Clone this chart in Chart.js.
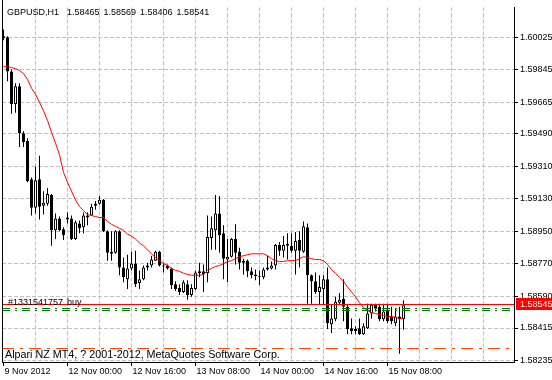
<!DOCTYPE html>
<html>
<head>
<meta charset="utf-8">
<script src="https://cdn.jsdelivr.net/npm/chart.js@4.4.0/dist/chart.umd.min.js"></script>
<style>
  html, body { margin: 0; padding: 0; background: #fff; }
</style>
</head>
<body>
<canvas id="chart" width="552" height="380"></canvas>
<script>
// GBPUSD H1, 9 Nov 2012 08:00 .. 15 Nov 2012 12:00
const opens = [1.60020, 1.60025, 1.59835, 1.59656, 1.59754, 1.59493, 1.59450, 1.59239, 1.59081, 1.59239,
  1.59092, 1.59103, 1.59152, 1.58956, 1.59022, 1.58962, 1.59027, 1.59022, 1.58908, 1.58994,
  1.58973, 1.59038, 1.59038, 1.59092, 1.59103, 1.59125, 1.58951, 1.58837, 1.58832, 1.58951,
  1.58750, 1.58685, 1.58745, 1.58772, 1.58664, 1.58685, 1.58750, 1.58761, 1.58788, 1.58837,
  1.58761, 1.58761, 1.58745, 1.58658, 1.58636, 1.58615, 1.58658, 1.58598, 1.58631, 1.58729,
  1.58729, 1.58718, 1.58913, 1.58956, 1.59049, 1.58940, 1.58794, 1.58810, 1.58908, 1.58837,
  1.58777, 1.58788, 1.58729, 1.58712, 1.58696, 1.58696, 1.58739, 1.58745, 1.58761, 1.58875,
  1.58843, 1.58880, 1.58870, 1.58843, 1.58902, 1.58837, 1.58973, 1.58707, 1.58674, 1.58615,
  1.58631, 1.58685, 1.58436, 1.58463, 1.58555, 1.58577, 1.58533, 1.58414, 1.58398, 1.58414,
  1.58381, 1.58414, 1.58495, 1.58544, 1.58533, 1.58463, 1.58517, 1.58479, 1.58441, 1.58479,
  1.58465];
const highs = [1.60068, 1.60030, 1.59846, 1.59770, 1.59770, 1.59504, 1.59466, 1.59249, 1.59309, 1.59369,
  1.59173, 1.59190, 1.59157, 1.59049, 1.59032, 1.58973, 1.59054, 1.59038, 1.59011, 1.59011,
  1.59054, 1.59054, 1.59103, 1.59119, 1.59146, 1.59130, 1.58956, 1.58951, 1.58956, 1.58956,
  1.58805, 1.58821, 1.58837, 1.58843, 1.58734, 1.58761, 1.58777, 1.58815, 1.58843, 1.58843,
  1.58777, 1.58767, 1.58750, 1.58674, 1.58658, 1.58680, 1.58680, 1.58658, 1.58734, 1.58777,
  1.58767, 1.59038, 1.59032, 1.59152, 1.59146, 1.58984, 1.58908, 1.58913, 1.58989, 1.58859,
  1.58799, 1.58794, 1.58750, 1.58739, 1.58734, 1.58750, 1.58815, 1.58783, 1.58880, 1.58891,
  1.58924, 1.58940, 1.58940, 1.58946, 1.58951, 1.59005, 1.58994, 1.58712, 1.58723, 1.58707,
  1.58707, 1.58750, 1.58544, 1.58588, 1.58609, 1.58685, 1.58544, 1.58468, 1.58425, 1.58468,
  1.58441, 1.58550, 1.58550, 1.58550, 1.58550, 1.58550, 1.58550, 1.58533, 1.58522, 1.58533,
  1.58569];
const lows = [1.60009, 1.59781, 1.59602, 1.59607, 1.59418, 1.59418, 1.59222, 1.59038, 1.59049, 1.59016,
  1.59043, 1.59092, 1.58870, 1.58908, 1.58951, 1.58902, 1.58994, 1.58902, 1.58902, 1.58940,
  1.58940, 1.58984, 1.59038, 1.59070, 1.59098, 1.58946, 1.58788, 1.58788, 1.58826, 1.58707,
  1.58669, 1.58631, 1.58734, 1.58642, 1.58631, 1.58680, 1.58734, 1.58750, 1.58788, 1.58756,
  1.58723, 1.58739, 1.58631, 1.58620, 1.58598, 1.58609, 1.58571, 1.58588, 1.58626, 1.58696,
  1.58615, 1.58669, 1.58848, 1.58848, 1.58832, 1.58685, 1.58669, 1.58805, 1.58767, 1.58739,
  1.58712, 1.58696, 1.58691, 1.58680, 1.58653, 1.58685, 1.58734, 1.58739, 1.58739, 1.58815,
  1.58805, 1.58794, 1.58832, 1.58712, 1.58750, 1.58832, 1.58550, 1.58550, 1.58604, 1.58544,
  1.58550, 1.58409, 1.58387, 1.58452, 1.58544, 1.58452, 1.58381, 1.58381, 1.58381, 1.58376,
  1.58376, 1.58409, 1.58468, 1.58506, 1.58452, 1.58452, 1.58441, 1.58436, 1.58425, 1.58273,
  1.58406];
const closes = [1.60030, 1.59835, 1.59656, 1.59754, 1.59493, 1.59445, 1.59228, 1.59081, 1.59233, 1.59087,
  1.59108, 1.59157, 1.58956, 1.59022, 1.58956, 1.58929, 1.59016, 1.58908, 1.59000, 1.58967,
  1.59038, 1.59027, 1.59087, 1.59103, 1.59125, 1.58951, 1.58832, 1.58826, 1.58951, 1.58750,
  1.58696, 1.58745, 1.58772, 1.58658, 1.58685, 1.58750, 1.58761, 1.58794, 1.58837, 1.58761,
  1.58756, 1.58745, 1.58653, 1.58631, 1.58615, 1.58669, 1.58598, 1.58636, 1.58723, 1.58718,
  1.58712, 1.58919, 1.58967, 1.59049, 1.58929, 1.58799, 1.58810, 1.58908, 1.58832, 1.58777,
  1.58788, 1.58729, 1.58707, 1.58702, 1.58696, 1.58739, 1.58750, 1.58761, 1.58875, 1.58843,
  1.58875, 1.58870, 1.58843, 1.58897, 1.58843, 1.58978, 1.58707, 1.58674, 1.58615, 1.58642,
  1.58685, 1.58441, 1.58468, 1.58560, 1.58571, 1.58533, 1.58409, 1.58398, 1.58409, 1.58381,
  1.58425, 1.58495, 1.58544, 1.58522, 1.58463, 1.58506, 1.58452, 1.58452, 1.58479, 1.58463,
  1.58541];
const maValues = [1.59862, 1.59862, 1.59857, 1.59851, 1.59841, 1.59824, 1.59792, 1.59743, 1.59710, 1.59665,
  1.59618, 1.59564, 1.59499, 1.59439, 1.59374, 1.59276, 1.59222, 1.59173, 1.59125, 1.59087,
  1.59065, 1.59043, 1.59038, 1.59032, 1.59027, 1.59027, 1.59005, 1.58989, 1.58978, 1.58967,
  1.58956, 1.58935, 1.58924, 1.58908, 1.58886, 1.58870, 1.58848, 1.58826, 1.58805, 1.58788,
  1.58772, 1.58761, 1.58745, 1.58734, 1.58729, 1.58718, 1.58712, 1.58707, 1.58707, 1.58707,
  1.58712, 1.58734, 1.58745, 1.58756, 1.58761, 1.58772, 1.58783, 1.58788, 1.58799, 1.58810,
  1.58815, 1.58821, 1.58826, 1.58826, 1.58826, 1.58826, 1.58815, 1.58799, 1.58788, 1.58783,
  1.58783, 1.58788, 1.58788, 1.58788, 1.58799, 1.58810, 1.58805, 1.58799, 1.58794, 1.58794,
  1.58788, 1.58767, 1.58739, 1.58718, 1.58696, 1.58674, 1.58642, 1.58615, 1.58588, 1.58555,
  1.58528, 1.58512, 1.58501, 1.58495, 1.58490, 1.58485, 1.58479, 1.58479, 1.58474, 1.58468,
  1.58468];

const yTicks = [1.58235, 1.58415, 1.58590, 1.58770, 1.58950, 1.59130, 1.59310, 1.59490, 1.59665, 1.59845, 1.60025];
const gridBars = [0, 8, 16, 24, 32, 40, 48, 56, 64, 72, 80, 88, 96, 104, 112, 120];
const xTickBars = [0, 16, 32, 48, 64, 80, 96];
const xTickLabels = ['9 Nov 2012', '12 Nov 00:00', '12 Nov 16:00', '13 Nov 08:00', '14 Nov 00:00', '14 Nov 16:00', '15 Nov 08:00'];

const orderLevel = 1.58545;
const stopLevels = [1.58522, 1.58512];
const targetLevel = 1.58300;
const bidPrice = 1.58545;
const headerText = 'GBPUSD,H1  1.58465 1.58569 1.58406 1.58541';
const orderText = '#1331541757 buy';
const footerText = 'Alpari NZ MT4, ? 2001-2012, MetaQuotes Software Corp.';

function fontExists(name) {
  const c = document.createElement('canvas').getContext('2d');
  c.font = '20px monospace';
  const w0 = c.measureText('GBPUSD 1.58465').width;
  c.font = '20px "' + name + '", monospace';
  return c.measureText('GBPUSD 1.58465').width !== w0;
}
const narrow = fontExists('Liberation Sans Narrow');
const FONT_FAMILY = narrow ? '"Liberation Sans Narrow"' : '"Liberation Sans"';
const FONT_SIZE = narrow ? 11 : 9;
const FONT = FONT_SIZE + 'px ' + FONT_FAMILY;
const FOOTER_FONT = '10.75px "Liberation Sans", Arial, sans-serif';

Chart.defaults.font.family = FONT_FAMILY;
Chart.defaults.font.size = FONT_SIZE;
Chart.defaults.color = '#000';

// order lines, frame and MT4 captions
const overlay = {
  id: 'overlay',
  afterDatasetsDraw(chart) {
    const { ctx, chartArea: a, scales: { y } } = chart;
    const level = (v, color, dash) => {
      const py = Math.floor(y.getPixelForValue(v)) + 0.5;
      ctx.setLineDash(dash);
      ctx.strokeStyle = color;
      ctx.lineWidth = 1;
      ctx.beginPath();
      ctx.moveTo(a.left, py);
      ctx.lineTo(a.right, py);
      ctx.stroke();
    };
    ctx.save();
    stopLevels.forEach(v => level(v, '#007800', [8, 5, 2, 5]));
    level(targetLevel, '#ff4500', [12, 6, 3, 6]);
    level(orderLevel, '#ff0000', []);
    ctx.restore();
  },
  afterDraw(chart) {
    const { ctx, chartArea: a, scales: { y } } = chart;
    ctx.save();
    ctx.strokeStyle = '#000';
    ctx.lineWidth = 1;
    ctx.beginPath();
    ctx.moveTo(a.left + 0.5, 0);
    ctx.lineTo(a.left + 0.5, a.bottom + 1);
    ctx.stroke();

    ctx.fillStyle = '#000';
    ctx.textBaseline = 'alphabetic';
    ctx.textAlign = 'left';
    ctx.font = FONT;
    ctx.wordSpacing = '1.5px';
    ctx.fillText(headerText, a.left + 5, 15);
    ctx.fillText(orderText, a.left + 6, Math.floor(y.getPixelForValue(orderLevel)) + 1);
    ctx.wordSpacing = '0px';
    ctx.font = FOOTER_FONT;
    ctx.fillText(footerText, a.left + 3, a.bottom - 4);

    const by = Math.floor(y.getPixelForValue(bidPrice));
    ctx.fillStyle = '#ff0000';
    ctx.fillRect(a.right + 2, by - 6, chart.width - a.right - 2, 12);
    ctx.fillStyle = '#fff';
    ctx.font = FONT;
    ctx.textBaseline = 'middle';
    ctx.fillText(bidPrice.toFixed(5), a.right + 6, by + 0.5);
    ctx.restore();
  }
};

const xs = opens.map((_, i) => i);

new Chart(document.getElementById('chart'), {
  type: 'bar',
  data: {
    datasets: [
      {
        type: 'line',
        label: 'MA',
        data: xs.map(i => ({ x: i, y: maValues[i] })),
        borderColor: '#ff0000',
        borderWidth: 1,
        pointRadius: 0,
        tension: 0,
        order: 0
      },
      {
        label: 'Body',
        data: xs.map(i => ({ x: i, y: [opens[i], closes[i]] })),
        backgroundColor: xs.map(i => closes[i] > opens[i] ? '#ffffff' : '#000000'),
        borderColor: '#000',
        borderWidth: 1,
        borderSkipped: false,
        barThickness: 3,
        minBarLength: 1,
        inflateAmount: 0,
        grouped: false,
        order: 1
      },
      {
        label: 'Wick',
        data: xs.map(i => ({ x: i, y: [lows[i], highs[i]] })),
        backgroundColor: '#000',
        borderWidth: 0,
        barThickness: 1,
        minBarLength: 1,
        inflateAmount: 0,
        grouped: false,
        order: 2
      }
    ]
  },
  options: {
    responsive: false,
    animation: false,
    layout: { padding: { left: 2, top: 0, right: 0, bottom: 0 } },
    plugins: { legend: { display: false }, tooltip: { enabled: false } },
    scales: {
      x: {
        type: 'linear',
        min: -0.375,
        max: 127.625,
        offset: false,
        afterBuildTicks: s => { s.ticks = gridBars.map(v => ({ value: v })); },
        afterFit: s => { s.height = 18; },
        grid: {
          offset: false,
          color: c => (c.tick && c.tick.value === 0) ? 'rgba(0,0,0,0)' : '#c0c0c0',
          tickColor: c => (c.tick && xTickBars.includes(c.tick.value)) ? '#000' : 'rgba(0,0,0,0)',
          tickLength: 4
        },
        border: { color: '#000', dash: [4, 2] },
        ticks: {
          align: 'start',
          labelOffset: 1,
          padding: 0,
          maxRotation: 0,
          autoSkip: false,
          callback: v => {
            const k = xTickBars.indexOf(v);
            return k >= 0 ? xTickLabels[k] : '';
          }
        }
      },
      y: {
        position: 'right',
        min: 1.582268,
        max: 1.601904,
        afterBuildTicks: s => { s.ticks = yTicks.map(v => ({ value: v })); },
        afterFit: s => { s.width = 38; },
        grid: { color: '#c0c0c0', tickColor: '#000', tickLength: 4 },
        border: { color: '#000', dash: [4, 2] },
        ticks: { padding: 2, callback: v => v.toFixed(5) }
      }
    }
  },
  plugins: [overlay]
});
</script>
</body>
</html>
